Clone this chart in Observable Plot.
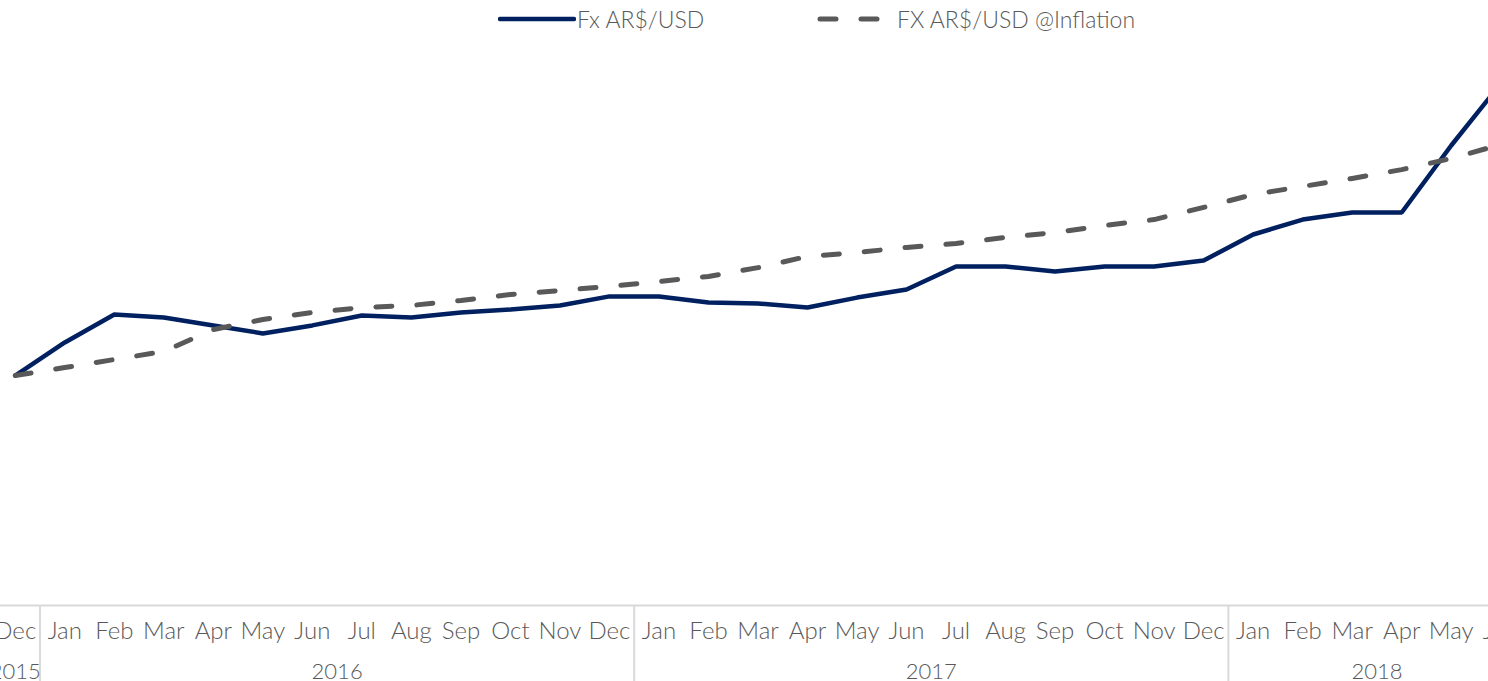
<!DOCTYPE html>
<html><head><meta charset="utf-8">
<script src="https://cdn.jsdelivr.net/npm/d3@7"></script>
<script src="https://cdn.jsdelivr.net/npm/@observablehq/plot@0.6"></script>
<style>
html,body{margin:0;padding:0;background:#fff;overflow:hidden;width:1488px;height:681px;}
#wrap{position:relative;width:1488px;height:681px;overflow:hidden;font-family:Lato,"Open Sans",sans-serif;}
#chart{position:absolute;left:-10.5px;top:0;width:1535px;height:681px;}
#chart svg{max-width:none !important;}
#legend{position:absolute;top:0;left:0;width:1488px;height:40px;color:#595959;font-size:23px;font-weight:300;}
#legend .item{position:absolute;top:6px;height:26px;line-height:26px;white-space:nowrap;}
#legend svg{position:absolute;top:0;}
#legend .lab{position:absolute;top:0;}
</style></head>
<body><div id="wrap"><div id="chart"></div><div id="legend"></div></div>
<script>
// ---- data ----
const months = ["Dec",
  "Jan","Feb","Mar","Apr","May","Jun","Jul","Aug","Sep","Oct","Nov","Dec",
  "Jan","Feb","Mar","Apr","May","Jun","Jul","Aug","Sep","Oct","Nov","Dec",
  "Jan","Feb","Mar","Apr","May","Jun"];
const years = [2015,
  2016,2016,2016,2016,2016,2016,2016,2016,2016,2016,2016,2016,
  2017,2017,2017,2017,2017,2017,2017,2017,2017,2017,2017,2017,
  2018,2018,2018,2018,2018,2018];
const fx = [11.73,
  13.42,14.85,14.69,14.29,13.88,14.29,14.80,14.69,14.95,15.10,15.31,15.77,
  15.77,15.46,15.41,15.20,15.71,16.12,17.30,17.30,17.04,17.30,17.30,17.60,
  18.93,19.69,20.05,20.05,23.47,26.63];
const fxInflation = [11.73,
  12.14,12.55,12.96,14.08,14.59,14.95,15.20,15.31,15.56,15.87,16.07,16.28,
  16.53,16.79,17.24,17.81,18.01,18.27,18.47,18.78,19.03,19.39,19.69,20.31,
  20.97,21.38,21.79,22.24,22.81,23.52];
const seriesNames = ["Fx AR$/USD", "FX AR$/USD", "@Inflation"];

// ---- derived table ----
const rows = months.map((m, i) => ({i, month: m, year: years[i], fx: fx[i], inf: fxInflation[i]}));
const groups = d3.groups(rows, d => d.year).map(([year, ds]) => ({
  year, first: ds[0].i, last: ds[ds.length - 1].i
}));
const boundaries = groups.slice(1).map(g => g.first - 0.5);
const yearCenters = groups.map(g => (g.first + g.last) / 2);
const yearByCenter = new Map(groups.map(g => [(g.first + g.last) / 2, String(g.year)]));

const navy = "#002060", gray = "#595959";

const chart = Plot.plot({
  width: 1535, height: 681,
  marginLeft: 0, marginRight: 0, marginTop: 17, marginBottom: 76,
  x: {type: "linear", domain: [-0.5, rows.length - 0.5], axis: null},
  y: {domain: [0, 30], axis: null},
  style: {fontFamily: "Lato, 'Open Sans', sans-serif", fontWeight: 300, color: gray, background: "#fff", maxWidth: "none"},
  marks: [
    Plot.ruleY([0], {stroke: "#d9d9d9", strokeWidth: 2}),
    Plot.axisX({ticks: boundaries, tickSize: 80, tickFormat: () => "", label: null, stroke: "#d9d9d9", strokeWidth: 2, strokeOpacity: 1}),
    Plot.axisX({ticks: rows.map(d => d.i), tickSize: 0, tickPadding: 16, label: null, tickFormat: i => months[i], fontSize: 24, fill: gray}),
    Plot.axisX({ticks: yearCenters, tickSize: 0, tickPadding: 58, label: null, tickFormat: c => yearByCenter.get(c), fontSize: 22, fill: gray}),
    Plot.line(rows, {x: "i", y: "fx", stroke: navy, strokeWidth: 4.5, strokeLinejoin: "miter"}),
    Plot.line(rows, {x: "i", y: "inf", stroke: gray, strokeWidth: 5, strokeDasharray: "16,25", strokeLinecap: "round"})
  ]
});
document.getElementById("chart").appendChild(chart);

// ---- legend ----
const legend = document.getElementById("legend");
legend.innerHTML = `
  <div class="item" style="left:498px">
    <svg width="78" height="26"><line x1="2" x2="76" y1="13" y2="13" stroke="${navy}" stroke-width="4.5" stroke-linecap="round"/></svg>
    <span class="lab" style="left:79px">${seriesNames[0]}</span>
  </div>
  <div class="item" style="left:816px">
    <svg width="70" height="26"><line x1="4" x2="66" y1="13" y2="13" stroke="${gray}" stroke-width="5" stroke-dasharray="16,25" stroke-linecap="round"/></svg>
    <span class="lab" style="left:81px">${seriesNames[1]} ${seriesNames[2]}</span>
  </div>`;
</script>
</body></html>
